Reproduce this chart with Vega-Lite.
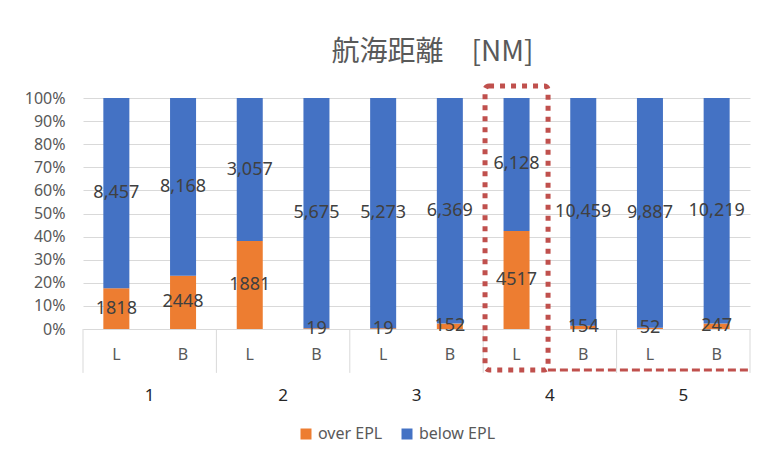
{
  "$schema": "https://vega.github.io/schema/vega-lite/v6.json",
  "width": 667,
  "height": 231,
  "autosize": {"type": "none"},
  "padding": {"left": 83, "top": 98, "right": 19, "bottom": 133},
  "background": "white",
  "config": {
    "font": "Noto Sans",
    "view": {"stroke": null},
    "axisY": {
      "title": null, "format": ".0%", "tickCount": 10, "labelOverlap": false,
      "ticks": false, "domain": false, "gridColor": "#D9D9D9",
      "labelFontSize": 16, "labelColor": "#595959", "labelPadding": 18
    }
  },
  "title": {
    "text": "航海距離　[NM]",
    "font": "Noto Sans CJK JP",
    "fontSize": 28,
    "fontWeight": "normal",
    "color": "#595959",
    "dx": 16,
    "offset": 16
  },
  "data": {
    "values": [
      {"bar": "1L", "group": "1", "side": "L", "series": "over EPL", "value": 1818},
      {"bar": "1L", "group": "1", "side": "L", "series": "below EPL", "value": 8457},
      {"bar": "1B", "group": "1", "side": "B", "series": "over EPL", "value": 2448},
      {"bar": "1B", "group": "1", "side": "B", "series": "below EPL", "value": 8168},
      {"bar": "2L", "group": "2", "side": "L", "series": "over EPL", "value": 1881},
      {"bar": "2L", "group": "2", "side": "L", "series": "below EPL", "value": 3057},
      {"bar": "2B", "group": "2", "side": "B", "series": "over EPL", "value": 19},
      {"bar": "2B", "group": "2", "side": "B", "series": "below EPL", "value": 5675},
      {"bar": "3L", "group": "3", "side": "L", "series": "over EPL", "value": 19},
      {"bar": "3L", "group": "3", "side": "L", "series": "below EPL", "value": 5273},
      {"bar": "3B", "group": "3", "side": "B", "series": "over EPL", "value": 152},
      {"bar": "3B", "group": "3", "side": "B", "series": "below EPL", "value": 6369},
      {"bar": "4L", "group": "4", "side": "L", "series": "over EPL", "value": 4517},
      {"bar": "4L", "group": "4", "side": "L", "series": "below EPL", "value": 6128},
      {"bar": "4B", "group": "4", "side": "B", "series": "over EPL", "value": 154},
      {"bar": "4B", "group": "4", "side": "B", "series": "below EPL", "value": 10459},
      {"bar": "5L", "group": "5", "side": "L", "series": "over EPL", "value": 52},
      {"bar": "5L", "group": "5", "side": "L", "series": "below EPL", "value": 9887},
      {"bar": "5B", "group": "5", "side": "B", "series": "over EPL", "value": 247},
      {"bar": "5B", "group": "5", "side": "B", "series": "below EPL", "value": 10219}
    ]
  },
  "layer": [
    {
      "mark": {"type": "bar", "width": {"band": 0.39}},
      "encoding": {
        "x": {
          "field": "bar", "type": "nominal", "sort": null,
          "scale": {"paddingInner": 0, "paddingOuter": 0},
          "axis": {
            "title": null, "labelExpr": "substring(datum.value, 1)", "labelAngle": 0,
            "ticks": false, "domainColor": "#D9D9D9", "domainWidth": 1,
            "labelPadding": 17, "labelFontSize": 16, "labelColor": "#595959", "grid": false
          }
        },
        "y": {
          "field": "value", "type": "quantitative", "stack": "normalize", "title": null,
          "scale": {"domain": [0, 1]}
        },
        "color": {
          "field": "series", "type": "nominal",
          "scale": {"domain": ["over EPL", "below EPL"], "range": ["#ED7D31", "#4472C4"]},
          "legend": {
            "title": null, "orient": "none", "legendX": 215, "legendY": 328,
            "direction": "horizontal", "symbolType": "square", "symbolSize": 121,
            "symbolStrokeWidth": 0, "labelFontSize": 16, "labelColor": "#595959",
            "columnPadding": 16, "labelOffset": 4
          }
        },
        "order": {"field": "series", "sort": "descending"}
      }
    },
    {
      "transform": [
        {"stack": "value", "groupby": ["bar"], "sort": [{"field": "series", "order": "descending"}], "offset": "normalize", "as": ["v0", "v1"]},
        {"calculate": "(datum.v0 + datum.v1) / 2", "as": "mid"},
        {"calculate": "datum.series == 'over EPL' ? format(datum.value, 'd') : format(datum.value, ',')", "as": "lbl"}
      ],
      "mark": {"type": "text", "fontSize": 18, "color": "#404040"},
      "encoding": {
        "x": {"field": "bar", "type": "nominal", "sort": null},
        "y": {"field": "mid", "type": "quantitative", "title": null},
        "text": {"field": "lbl"}
      }
    },
    {
      "transform": [{"filter": "datum.side == 'L' && datum.series == 'over EPL'"}],
      "mark": {"type": "rule", "color": "#D9D9D9", "strokeWidth": 1},
      "encoding": {
        "x": {"field": "bar", "type": "nominal", "sort": null, "bandPosition": 0},
        "y": {"datum": 0, "type": "quantitative"},
        "y2": {"datum": -0.19}
      }
    },
    {
      "transform": [{"filter": "datum.bar == '5B' && datum.series == 'over EPL'"}],
      "mark": {"type": "rule", "color": "#D9D9D9", "strokeWidth": 1},
      "encoding": {
        "x": {"field": "bar", "type": "nominal", "sort": null, "bandPosition": 1},
        "y": {"datum": 0, "type": "quantitative"},
        "y2": {"datum": -0.19}
      }
    },
    {
      "transform": [{"filter": "datum.side == 'L' && datum.series == 'over EPL'"}],
      "mark": {"type": "text", "fontSize": 17, "color": "#262626"},
      "encoding": {
        "x": {"field": "bar", "type": "nominal", "sort": null, "bandPosition": 1},
        "y": {"datum": -0.29, "type": "quantitative"},
        "text": {"field": "group"}
      }
    },
    {
      "transform": [{"filter": "datum.bar == '4L' && datum.series == 'over EPL'"}],
      "mark": {"type": "bar", "width": {"band": 0.945}, "filled": false, "stroke": "#C0504D", "strokeWidth": 5, "strokeDash": [5, 6], "cornerRadius": 4},
      "encoding": {
        "x": {"field": "bar", "type": "nominal", "sort": null},
        "y": {"datum": 1.052, "type": "quantitative"},
        "y2": {"datum": -0.177}
      }
    },
    {
      "transform": [{"filter": "datum.bar == '4L' && datum.series == 'over EPL'"}],
      "mark": {"type": "rule", "color": "#C0504D", "strokeWidth": 3, "strokeDash": [8, 4]},
      "encoding": {
        "x": {"field": "bar", "type": "nominal", "sort": null, "bandPosition": 0.97},
        "x2": {"datum": "5B", "bandPosition": 1},
        "y": {"datum": -0.177, "type": "quantitative"}
      }
    }
  ]
}
